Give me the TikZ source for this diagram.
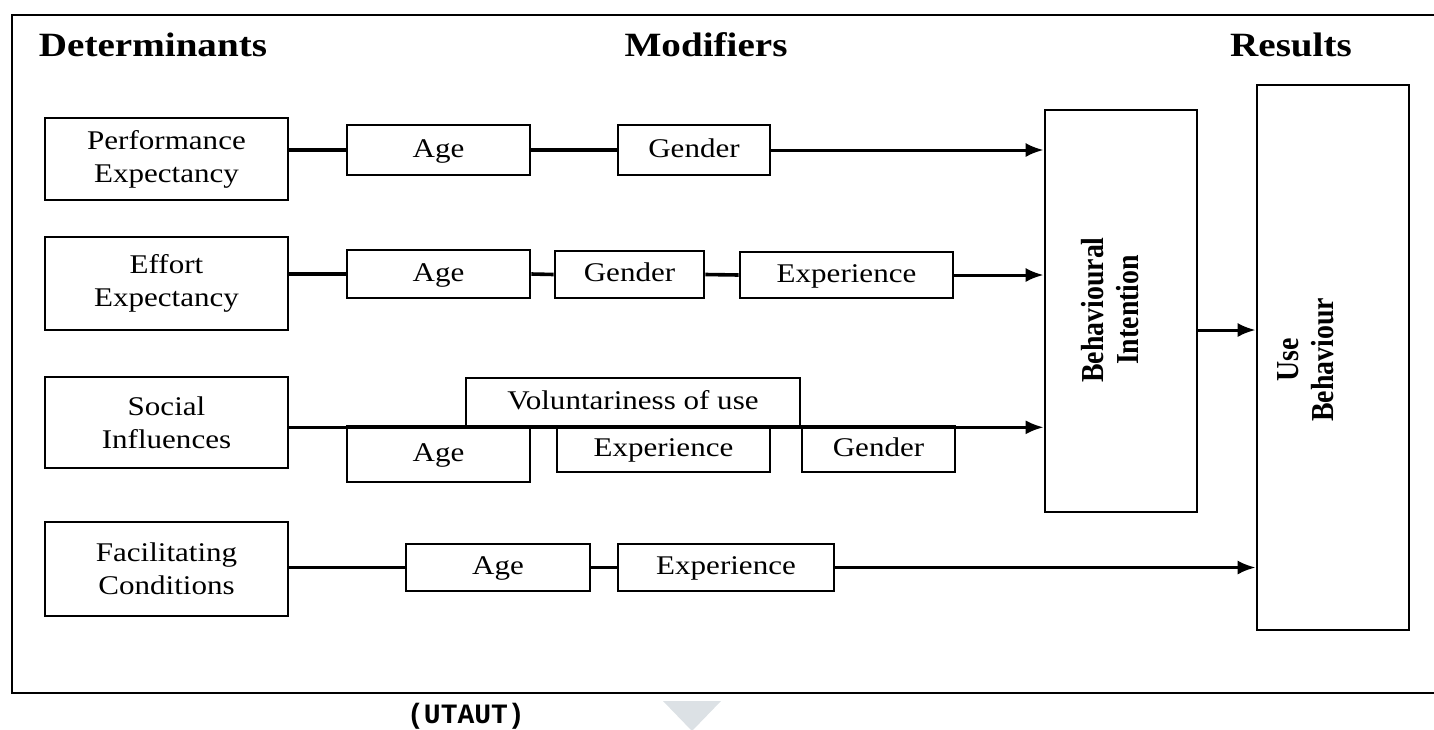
\documentclass[tikz,border=0pt]{standalone}
\usepackage{fontspec}
\setmainfont{Liberation Serif}[FakeStretch=1.15]
\newfontfamily\tallfont{Liberation Serif}[FakeStretch=0.87]
\setmonofont{Liberation Mono}
\usetikzlibrary{arrows.meta}
\definecolor{pointer}{RGB}{220,225,229}
\newcommand{\boxfont}{\fontsize{13.5}{16.5}\selectfont}
\newcommand{\headfont}{\bfseries\fontsize{17}{20}\selectfont}
\newcommand{\vertfont}{\tallfont\bfseries\fontsize{16}{17.5}\selectfont}
\tikzset{x=0.5pt, y=-0.5pt,
    box/.style={draw, line width=1.3pt, inner sep=0pt, align=center, font=\boxfont},
    tag/.style={box, text height=0.84em, text depth=0.1em},
    link/.style={line width=1.8pt},
    toarrow/.style={line width=1.5pt, -{Latex[length=9pt,width=7pt]}}}

\begin{document}
\begin{tikzpicture}
    \useasboundingbox (0,0) rectangle (1434,729);
    \draw[line width=1pt] (1434,15) -- (12,15) -- (12,693) -- (1434,693);
    \node[font=\headfont] (det) at (153,45) {Determinants};
    \node[font=\headfont] (mod) at (706,45) {Modifiers};
    \node[font=\headfont] (res) at (1291,45) {Results};

    \node[box, minimum width=121.5pt, minimum height=41pt] (pe) at (166.5,159) {Performance\\Expectancy};
    \node[box, minimum width=121.5pt, minimum height=46.5pt] (ee) at (166.5,283.5) {Effort\\Expectancy};
    \node[box, minimum width=121.5pt, minimum height=45.5pt] (si) at (166.5,422.5) {Social\\Influences};
    \node[box, minimum width=121.5pt, minimum height=47pt] (fc) at (166.5,569) {Facilitating\\Conditions};

    \node[box, minimum width=76pt, minimum height=201pt] (bi) at (1121,311) {};
    \node[font=\vertfont, rotate=90, align=center] (bitext) at (1110,310) {Behavioural\\Intention};
    \node[box, minimum width=76pt, minimum height=272.5pt] (ub) at (1333,357.5) {};
    \node[font=\vertfont, rotate=90, align=center] (ubtext) at (1306,360) {Use\\Behaviour};

    \node[tag, minimum width=91.5pt, minimum height=25pt] (age1) at (438.5,150) {Age};
    \node[tag, minimum width=76pt, minimum height=25pt] (gen1) at (694,150) {Gender};

    \node[tag, minimum width=91.5pt, minimum height=24pt] (age2) at (438.5,274) {Age};
    \node[tag, minimum width=74.5pt, minimum height=23.5pt] (gen2) at (629.5,274.5) {Gender};
    \node[tag, minimum width=106.5pt, minimum height=23pt] (exp2) at (846.5,275) {Experience};

    \node[tag, minimum width=167pt, minimum height=24pt] (vol) at (633,402) {Voluntariness of use};
    \node[tag, minimum width=91.5pt, minimum height=28pt] (age3) at (438.5,454) {Age};
    \node[tag, minimum width=106.5pt, minimum height=23pt] (exp3) at (663.5,449) {Experience};
    \node[tag, minimum width=76.5pt, minimum height=23pt] (gen3) at (878.5,449) {Gender};

    \node[tag, minimum width=92pt, minimum height=23.5pt] (age4) at (498,567.5) {Age};
    \node[tag, minimum width=108pt, minimum height=23.5pt] (exp4) at (726,567.5) {Experience};

    \draw[link] (pe.east |- age1.west) -- (age1.west);
    \draw[link] (age1.east) -- (gen1.west);
    \draw[toarrow] (gen1.east) -- (gen1.east -| bi.west);

    \draw[link] (ee.east |- age2.west) -- (age2.west);
    \draw[link] (age2.east) -- (gen2.west);
    \draw[link] (gen2.east) -- (exp2.west);
    \draw[toarrow] (exp2.east) -- (exp2.east -| bi.west);

    \draw[toarrow] (si.east |- vol.south) -- (vol.south -| bi.west);

    \draw[link] (fc.east |- age4.west) -- (age4.west);
    \draw[link] (age4.east) -- (exp4.west);
    \draw[toarrow] (exp4.east) -- (exp4.east -| ub.west);

    \draw[toarrow] ([yshift=-9.5pt]bi.east) -- ([yshift=-9.5pt]bi.east -| ub.west);

    \node[font=\ttfamily\bfseries\fontsize{14}{16}\selectfont] (utaut) at (466,716) {(UTAUT)};
    \fill[pointer] (663,701) -- (721,701) -- (692,731) -- cycle;
\end{tikzpicture}
\end{document}
